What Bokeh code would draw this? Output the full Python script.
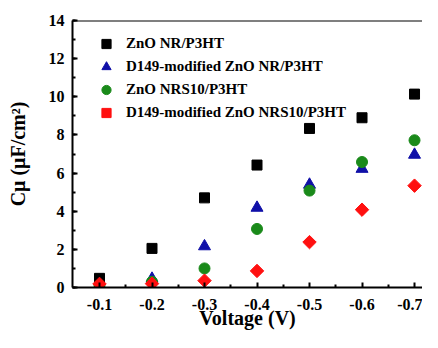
from bokeh.plotting import figure
from bokeh.models import (Range1d, FixedTicker, SingleIntervalTicker, Span,
                          Legend, LegendItem)
from bokeh.embed import file_html
from bokeh.resources import INLINE
import math

# ---- data ----
voltage = [-0.1, -0.2, -0.3, -0.4, -0.5, -0.6, -0.7]
x_tick_labels = ["-0.1", "-0.2", "-0.3", "-0.4", "-0.5", "-0.6", "-0.7"]
x_minor = [-0.15, -0.25, -0.35, -0.45, -0.55, -0.65]
zno_nr = [0.48, 2.05, 4.70, 6.42, 8.34, 8.90, 10.14]
d149_nr = [0.15, 0.46, 2.16, 4.18, 5.39, 6.22, 6.96]
zno_nrs10 = [0.12, 0.30, 1.00, 3.07, 5.08, 6.58, 7.72]
d149_nrs10 = [0.19, 0.20, 0.36, 0.87, 2.38, 4.08, 5.34]
series_names = ["ZnO NR/P3HT", "D149-modified ZnO NR/P3HT",
                "ZnO NRS10/P3HT", "D149-modified ZnO NRS10/P3HT"]
x_title = "Voltage (V)"
y_title = "Cμ (μF/cm²)"

FONT = "Liberation Serif"

p = figure(width=422, height=332, output_backend="svg", toolbar_location=None,
           x_range=Range1d(-0.04857, -0.7152), y_range=Range1d(0, 14),
           min_border_left=72, min_border_right=0, min_border_top=20,
           min_border_bottom=45)
p.outline_line_color = None
p.grid.visible = False
p.background_fill_color = "white"
p.border_fill_color = "white"

# axes
xa = p.xaxis[0]
xa.ticker = FixedTicker(ticks=voltage, minor_ticks=x_minor)
xa.major_label_overrides = {v: t for v, t in zip(voltage, x_tick_labels)}
ya = p.yaxis[0]
ya.ticker = SingleIntervalTicker(interval=2, num_minor_ticks=2)
for ax in (xa, ya):
    ax.axis_line_width = 2
    ax.axis_line_color = "black"
    ax.major_tick_in = 5
    ax.major_tick_out = 0
    ax.minor_tick_in = 3
    ax.minor_tick_out = 0
    ax.major_tick_line_width = 2
    ax.minor_tick_line_width = 2
    ax.major_label_text_font = FONT
    ax.major_label_text_font_style = "bold"
    ax.major_label_text_font_size = "16px"
    ax.major_label_text_color = "black"
    ax.axis_label_text_font = FONT
    ax.axis_label_text_font_style = "bold"
    ax.axis_label_text_font_size = "20px"
    ax.axis_label_text_color = "black"
xa.major_label_standoff = 11
ya.major_label_standoff = 8
xa.axis_label = x_title
ya.axis_label = y_title
xa.axis_label_standoff = -6
ya.axis_label_standoff = 17

p.add_layout(Span(location=14, dimension="width", line_color="black", line_width=2))

# markers
r1 = p.scatter(voltage, zno_nr, marker="square", size=10, color="black")
r2 = p.scatter(voltage, d149_nr, marker="triangle", size=12, color="#1010a8")
r3 = p.scatter(voltage, zno_nrs10, marker="circle", size=11, color="#1a8a1a")
r4 = p.scatter(voltage, d149_nrs10, marker="square", angle=math.pi / 4, size=9.5,
               color="#ff1010")

legend = Legend(items=[LegendItem(label=n, renderers=[r]) for n, r in
                       zip(series_names, [r1, r2, r3, r4])],
                location=(22, 163), padding=0, margin=0, spacing=0,
                glyph_width=24, glyph_height=23, label_height=23,
                label_standoff=8, border_line_color=None,
                background_fill_alpha=0,
                label_text_font=FONT, label_text_font_style="bold",
                label_text_font_size="15px", label_text_color="black")
p.add_layout(legend)

open("out.html", "w").write(file_html(p, INLINE))
